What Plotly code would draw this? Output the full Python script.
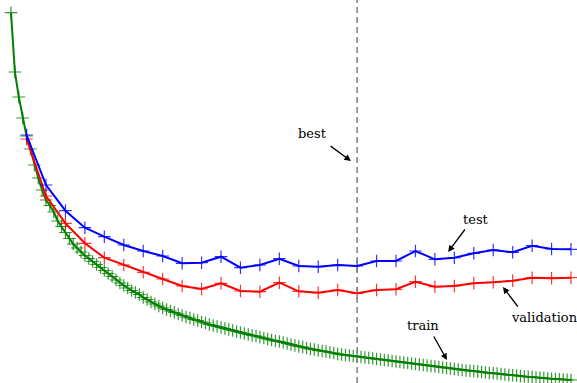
import plotly.graph_objects as go

# epochs
train_epochs = list(range(145))
eval_epochs = list(range(4, 145, 5))

train_loss = [
    3.873, 3.28, 3.03, 2.82, 2.64, 2.51, 2.35, 2.22, 2.10, 2.00,
    1.945, 1.88, 1.79, 1.735, 1.675, 1.615, 1.56, 1.52, 1.48, 1.445,
    1.415, 1.385, 1.355, 1.325, 1.295, 1.265, 1.235, 1.20, 1.17, 1.145,
    1.12, 1.095, 1.075, 1.055, 1.025, 1.005, 0.98, 0.96, 0.94, 0.92,
    0.905, 0.89, 0.875, 0.86, 0.845, 0.83, 0.82, 0.805, 0.795, 0.78,
    0.77, 0.755, 0.745, 0.735, 0.725, 0.715, 0.705, 0.695, 0.685, 0.675,
    0.665, 0.655, 0.645, 0.64, 0.63, 0.62, 0.61, 0.60, 0.59, 0.585,
    0.575, 0.565, 0.555, 0.545, 0.535, 0.53, 0.52, 0.51, 0.505, 0.495,
    0.49, 0.485, 0.475, 0.47, 0.46, 0.455, 0.45, 0.445, 0.44, 0.435,
    0.43, 0.425, 0.42, 0.415, 0.41, 0.405, 0.40, 0.395, 0.39, 0.385,
    0.38, 0.375, 0.37, 0.365, 0.36, 0.355, 0.35, 0.345, 0.34, 0.335,
    0.33, 0.325, 0.32, 0.315, 0.31, 0.305, 0.30, 0.295, 0.292, 0.29,
    0.285, 0.28, 0.275, 0.27, 0.268, 0.265, 0.26, 0.255, 0.25, 0.248,
    0.245, 0.24, 0.235, 0.233, 0.23, 0.225, 0.223, 0.22, 0.215, 0.213,
    0.21, 0.208, 0.205, 0.203, 0.20,
]

validation_loss = [
    2.61, 2.04, 1.767, 1.567, 1.423, 1.35, 1.277, 1.21, 1.14, 1.11,
    1.167, 1.09, 1.083, 1.173, 1.087, 1.073, 1.10, 1.067, 1.10, 1.107,
    1.183, 1.133, 1.14, 1.167, 1.177, 1.193, 1.223, 1.217, 1.223,
]

test_loss = [
    2.65, 2.15, 1.893, 1.723, 1.633, 1.55, 1.49, 1.44, 1.367, 1.373,
    1.433, 1.323, 1.35, 1.413, 1.34, 1.333, 1.35, 1.34, 1.39, 1.39,
    1.49, 1.407, 1.423, 1.467, 1.50, 1.477, 1.543, 1.51, 1.507,
]

best_epoch = 89

labels = ["best", "test", "validation", "train"]

fig = go.Figure()


def add_series(x, y, color, marker_color):
    fig.add_trace(go.Scatter(
        x=x, y=y, mode="lines+markers",
        line=dict(color=color, width=2),
        marker=dict(symbol="cross-thin", size=9,
                    line=dict(width=1.2, color=marker_color)),
        showlegend=False, hoverinfo="skip",
    ))


add_series(train_epochs, train_loss, "#008000", "rgba(0,128,0,0.8)")
add_series(eval_epochs, validation_loss, "#ff0000", "rgba(255,0,0,0.8)")
add_series(eval_epochs, test_loss, "#0000ff", "rgba(0,0,255,0.8)")

fig.add_vline(x=best_epoch, line=dict(color="#7f7f7f", width=1.5, dash="6px,4px"))

font = dict(family="DejaVu Serif", size=13, color="black")
# text labels: (x, y, horizontal anchor)
text_pos = [(77.5, 2.67, "center"), (119.6, 1.81, "center"),
            (128.3, 0.83, "left"), (105.9, 0.75, "center")]
# arrows: (tail, head)
arrows = [
    ((81.8, 2.55), (87.4, 2.39)),
    ((117.0, 1.72), (112.4, 1.48)),
    ((130.6, 0.92), (126.5, 1.13)),
    ((108.5, 0.65), (112.1, 0.40)),
]
for lab, (tx, ty, anc), ((ax, ay), (hx, hy)) in zip(labels, text_pos, arrows):
    fig.add_annotation(x=tx, y=ty, text=lab, showarrow=False, font=font,
                       xanchor=anc, yanchor="middle", borderpad=0)
    fig.add_annotation(x=hx, y=hy, ax=ax, ay=ay, axref="x", ayref="y",
                       text="", showarrow=True, arrowhead=2, arrowsize=1,
                       arrowwidth=1.3, arrowcolor="black")

fig.update_layout(
    width=577, height=383,
    margin=dict(l=0, r=0, t=0, b=0),
    paper_bgcolor="white", plot_bgcolor="white",
    hovermode=False,
    xaxis=dict(range=[-2.83, 145.54], visible=False),
    yaxis=dict(range=[0.17, 4.0], visible=False),
)

fig.write_html(
    "out.html",
    config={"displayModeBar": False, "staticPlot": True},
    post_script="document.body.style.margin='0';document.body.style.overflow='hidden';",
)
